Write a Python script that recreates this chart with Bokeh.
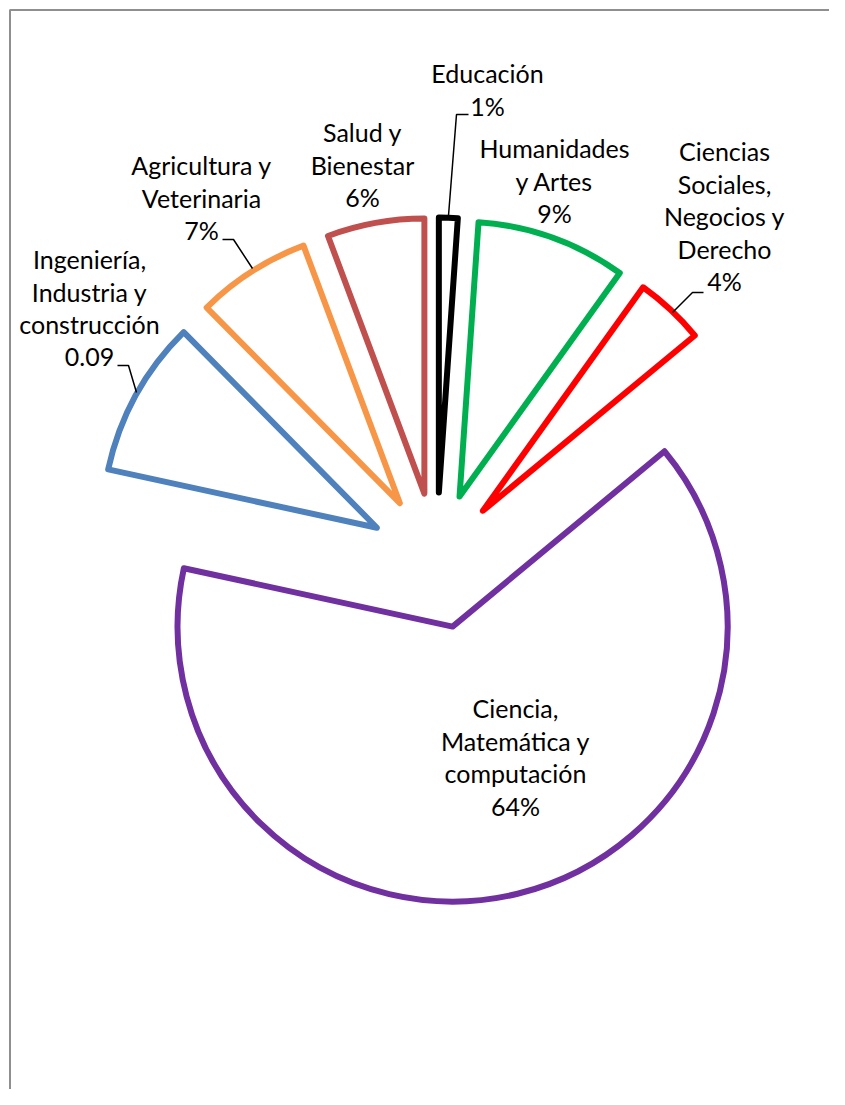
import numpy as np
from bokeh.plotting import figure
from bokeh.models import Range1d
from bokeh.core.properties import value
from bokeh.embed import file_html
from bokeh.resources import INLINE

# ---- data ----
categories = ["Educación", "Humanidades y Artes", "Ciencias Sociales, Negocios y Derecho",
              "Ciencia, Matemática y computación", "Ingeniería, Industria y construcción",
              "Agricultura y Veterinaria", "Salud y Bienestar"]
shares = [0.011, 0.088, 0.041, 0.644, 0.092, 0.067, 0.057]
value_labels = ["1%", "9%", "4%", "64%", "0.09", "7%", "6%"]
name_lines = [["Educación"], ["Humanidades", "y Artes"],
              ["Ciencias", "Sociales,", "Negocios y", "Derecho"],
              ["Ciencia,", "Matemática y", "computación"],
              ["Ingeniería,", "Industria y", "construcción"],
              ["Agricultura y", "Veterinaria"], ["Salud y", "Bienestar"]]
colors = ["#000000", "#00B050", "#FF0000", "#7030A0", "#4F81BD", "#F79646", "#C0504D"]

# ---- layout (page pixels) ----
W, H = 829, 1089
def sx(x): return x
def sy(y): return H - y

center_px = (436, 560)
radius = 275
explode = 68
label_anchor = [(487, 72.5), (554, 147.5), (724, 150.5), (515, 707.5), (89, 258.5), (201, 164.5), (362, 131.5)]
line_step = 32.5
leaders = [[(468, 114), (456, 114), (448, 215)],
           [(703, 292), (692, 292), (672, 312)],
           [(117, 365), (128, 365), (136, 392)],
           [(222, 239), (233, 239), (252, 268)]]

p = figure(width=W, height=H, x_range=Range1d(0, W), y_range=Range1d(0, H),
           output_backend="svg", toolbar_location=None, min_border=0)
p.axis.visible = False
p.grid.visible = False
p.outline_line_color = None
p.background_fill_color = "white"
p.border_fill_color = "white"

# chart frame (only left and top edges fall inside the window)
p.quad(left=[sx(9.5)], right=[W + 50], top=[sy(9.5)], bottom=[-50],
       fill_color=None, line_color="#8f8f8f", line_width=2)

fr = np.array(shares) / np.sum(shares)
cum_end = np.cumsum(fr)
cum_start = cum_end - fr
start_deg = 90 - cum_end * 360
end_deg = 90 - cum_start * 360
mid = np.radians((start_deg + end_deg) / 2)
cx = sx(center_px[0]) + explode * np.cos(mid)
cy = sy(center_px[1]) + explode * np.sin(mid)

p.wedge(x=cx, y=cy, radius=radius, start_angle=np.radians(start_deg),
        end_angle=np.radians(end_deg), direction="anticlock",
        fill_color=None, line_color=colors, line_width=6, line_join="round")

for pts in leaders:
    p.line([sx(a) for a, b in pts], [sy(b) for a, b in pts], line_color="black", line_width=1.5)

tx, ty, tt = [], [], []
for (ax, ay), lines, v in zip(label_anchor, name_lines, value_labels):
    for k, t in enumerate(lines + [v]):
        tx.append(sx(ax))
        ty.append(sy(ay + k * line_step))
        tt.append(t)
p.text(x=tx, y=ty, text=tt, text_align="center", text_baseline="middle",
       text_font=value("Lato"), text_font_size="25px", text_color="black")

open("out.html", "w").write(file_html(p, INLINE))
